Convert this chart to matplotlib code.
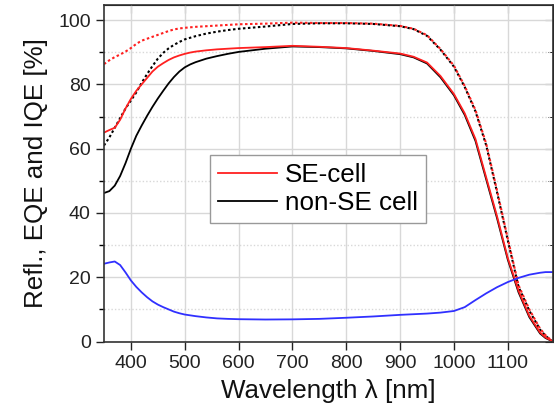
import matplotlib
matplotlib.use("Agg")
import matplotlib.pyplot as plt
from matplotlib.ticker import MultipleLocator

plt.rcParams['font.family'] = ['Liberation Sans', 'DejaVu Sans']

wl = [350, 360, 370, 380, 390, 400, 410, 420, 430, 440, 450, 460, 470, 480, 490,
      500, 510, 520, 540, 560, 580, 600, 650, 700, 750, 800, 850, 900, 925, 950, 975,
      1000, 1020, 1040, 1060, 1080, 1100, 1120, 1140, 1160, 1170, 1180, 1184]

eqe_se = [65.0, 65.8, 66.5, 69.0, 72.5, 75.5, 78.0, 80.0, 82.0, 84.0, 85.5, 86.6, 87.6, 88.4, 89.0,
          89.5, 89.9, 90.2, 90.6, 90.9, 91.1, 91.3, 91.6, 92.0, 91.7, 91.3, 90.5, 89.6, 88.6, 86.8, 82.6,
          77.0, 71.0, 63.0, 51.0, 39.0, 26.0, 15.8, 8.0, 2.8, 1.3, 0.4, 0.1]

eqe_non = [46.2, 46.8, 48.5, 51.5, 55.5, 60.0, 64.0, 67.2, 70.2, 73.0, 75.6, 78.0, 80.3, 82.3, 84.0,
           85.3, 86.2, 86.9, 88.0, 88.8, 89.5, 90.1, 91.1, 91.8, 91.6, 91.2, 90.4, 89.4, 88.4, 86.5, 82.2,
           76.6, 70.5, 62.4, 50.4, 38.4, 25.5, 15.3, 7.6, 2.5, 1.1, 0.3, 0.0]

iqe_se = [86.3, 87.5, 88.5, 89.3, 90.2, 91.3, 92.6, 93.6, 94.2, 94.8, 95.4, 96.0, 96.6, 97.1, 97.4,
          97.6, 97.75, 97.9, 98.1, 98.3, 98.5, 98.7, 98.9, 99.2, 99.1, 99.1, 98.9, 98.2, 97.3, 95.3, 91.0,
          85.8, 79.5, 72.0, 61.5, 47.0, 32.0, 17.5, 10.0, 4.0, 2.0, 0.5, 0.1]

iqe_non = [61.0, 63.5, 66.5, 69.5, 72.5, 75.0, 77.5, 80.5, 83.2, 85.7, 88.0, 89.8, 91.2, 92.3, 93.2,
           94.0, 94.5, 95.0, 95.8, 96.4, 96.9, 97.3, 98.0, 98.8, 99.0, 99.0, 98.8, 98.1, 97.2, 95.1, 90.8,
           85.5, 79.2, 71.6, 61.0, 46.5, 31.5, 17.0, 9.6, 3.7, 1.8, 0.4, 0.0]

refl = [24.2, 24.6, 24.9, 23.8, 21.5, 19.0, 17.0, 15.3, 13.8, 12.5, 11.5, 10.7, 10.0, 9.3, 8.8,
        8.4, 8.15, 7.9, 7.5, 7.2, 7.05, 6.95, 6.85, 6.9, 7.05, 7.4, 7.8, 8.3, 8.5, 8.7, 9.0,
        9.5, 10.7, 12.9, 15.0, 16.9, 18.5, 19.8, 20.8, 21.4, 21.6, 21.6, 21.6]

labels = ["SE-cell", "non-SE cell"]

RED = "#ff2020"
BLUE = "#3030ff"

fig = plt.figure(figsize=(5.54, 4.16), dpi=100)
ax = fig.add_axes([0.1877, 0.179, 0.8105, 0.809])

dot = (0, (1.2, 1.2))
ax.plot(wl, iqe_non, color="black", lw=1.5, ls=dot)
ax.plot(wl, iqe_se, color=RED, lw=1.5, ls=dot)
l2, = ax.plot(wl, eqe_non, color="black", lw=1.3)
l1, = ax.plot(wl, eqe_se, color=RED, lw=1.3)
ax.plot(wl, refl, color=BLUE, lw=1.3)

ax.set_xlim(350, 1184)
ax.set_ylim(0, 104.7)
ax.xaxis.set_major_locator(MultipleLocator(100))
ax.yaxis.set_major_locator(MultipleLocator(20))
ax.yaxis.set_minor_locator(MultipleLocator(10))

ax.grid(True, which="major", color="#d8d8d8", lw=1.0, ls="-")
ax.grid(True, which="minor", axis="y", color="#d8d8d8", lw=1.0, ls=(0, (1, 1.5)))
ax.set_axisbelow(True)

ax.tick_params(axis="both", which="major", direction="out", length=6, width=1.0,
               labelsize=14, colors="#222222", top=False, right=False)
ax.tick_params(axis="y", which="minor", direction="out", length=3.5, width=1.0)
ax.xaxis.set_ticks_position("bottom")

# inward ticks on top and right
axt = ax.secondary_xaxis("top")
axt.xaxis.set_major_locator(MultipleLocator(100))
axt.tick_params(direction="in", length=6, labeltop=False)
axr = ax.secondary_yaxis("right")
axr.yaxis.set_major_locator(MultipleLocator(20))
axr.yaxis.set_minor_locator(MultipleLocator(10))
axr.tick_params(which="major", direction="in", length=6, labelright=False)
axr.tick_params(which="minor", direction="in", length=3.5)

for s in ax.spines.values():
    s.set_color("#333333")
    s.set_linewidth(1.2)

ax.set_xlabel("Wavelength λ [nm]", fontsize=18.7, color="#111111", labelpad=5)
ax.set_ylabel("Refl., EQE and IQE [%]", fontsize=18.7, color="#111111", labelpad=7)

leg = ax.legend([l1, l2], labels, loc="upper left", bbox_to_anchor=(0.236, 0.554),
                borderaxespad=0, fontsize=18.7, frameon=True, fancybox=False,
                edgecolor="#999999", framealpha=1, handlelength=2.3,
                handletextpad=0.3, labelspacing=0.17, borderpad=0.3)
leg.get_frame().set_linewidth(1.0)

fig.savefig("out.png", dpi=100)
